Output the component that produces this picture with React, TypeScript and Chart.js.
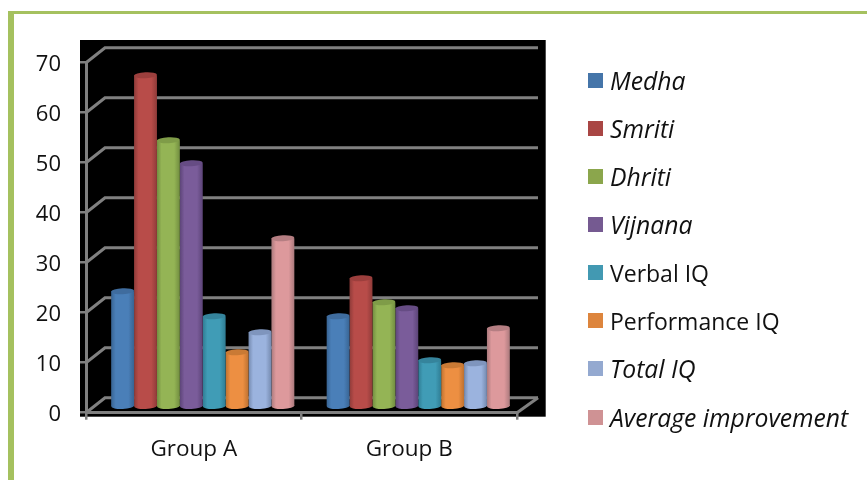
import React, { useEffect, useRef } from "react";
import { Chart, registerables } from "chart.js";

Chart.register(...registerables);

const groups = ["Group A", "Group B"];
const yMax = 70;
const yStep = 10;

const medha = [23.2, 18.2];
const smriti = [66.4, 25.8];
const dhriti = [53.4, 21];
const vijnana = [48.8, 19.8];
const verbalIQ = [18.2, 9.4];
const performanceIQ = [11, 8.4];
const totalIQ = [15, 8.8];
const averageImprovement = [33.8, 15.8];

const seriesNames = ["Medha", "Smriti", "Dhriti", "Vijnana", "Verbal IQ", "Performance IQ", "Total IQ", "Average improvement"];
const seriesValues = [medha, smriti, dhriti, vijnana, verbalIQ, performanceIQ, totalIQ, averageImprovement];
const italicNames = [true, true, true, true, false, false, true, true];
const mainColors = ["#4a7fb8", "#b84c49", "#94b455", "#7a5c9a", "#409cb6", "#ed8f42", "#9bb3de", "#dd999c"];
const edgeColors = ["#386493", "#8f3b39", "#718d40", "#5c4478", "#2f7c93", "#bd7130", "#7489ae", "#ab7a7d"];
const capColors = ["#3f6c9e", "#9c3f3d", "#7f9c48", "#664c84", "#35849c", "#c97a35", "#7f95bd", "#b57e82"];
const swatchColors = ["#4575a9", "#a94644", "#8ba64c", "#755a91", "#4299b2", "#dd853d", "#94a9d0", "#cf9294"];

const GRID = "#808080";
const FONT = "'Open Sans', sans-serif";
const CAT_PCT = 0.85;
const DEPTH_X = 19;
const DEPTH_Y = -15;
const BAR_DX = 9;
const BAR_DY = -5.5;
const CAP_RY = 3;

const barWidth = (chart: any) => {
  const s = chart.scales.x;
  return (s.getPixelForValue(1) - s.getPixelForValue(0)) * CAT_PCT / seriesNames.length;
};

const barGradient = (chart: any, i: number, dataIndex: number) => {
  const w = barWidth(chart);
  const cx = chart.scales.x.getPixelForValue(dataIndex) + (i - (seriesNames.length - 1) / 2) * w;
  const g = chart.ctx.createLinearGradient(cx - w / 2, 0, cx + w / 2, 0);
  g.addColorStop(0, edgeColors[i]);
  g.addColorStop(0.2, mainColors[i]);
  g.addColorStop(0.75, mainColors[i]);
  g.addColorStop(1, edgeColors[i]);
  return g;
};

const backdrop = {
  id: "backdrop",
  beforeDraw(chart: any) {
    const { ctx, chartArea: a } = chart;
    ctx.save();
    ctx.fillStyle = "#000";
    ctx.fillRect(a.left - 6, a.top - 22.7, a.right - a.left + 34.7, a.bottom - a.top + 26.7);
    ctx.restore();
  },
  beforeDatasetsDraw(chart: any) {
    const { ctx, chartArea: a, scales } = chart;
    ctx.save();
    ctx.strokeStyle = GRID;
    ctx.lineWidth = 3;
    for (const t of scales.y.ticks) {
      const y = scales.y.getPixelForValue(t.value);
      ctx.beginPath();
      ctx.moveTo(a.left, y);
      ctx.lineTo(a.left + DEPTH_X, y + DEPTH_Y);
      ctx.lineTo(a.right + DEPTH_X + 2, y + DEPTH_Y);
      ctx.stroke();
    }
    ctx.beginPath();
    ctx.moveTo(a.right, a.bottom);
    ctx.lineTo(a.right + DEPTH_X + 2, a.bottom + DEPTH_Y);
    ctx.stroke();
    ctx.restore();
    // Bars sit at mid-depth of the 3D box, with round feet under them.
    ctx.save();
    ctx.translate(BAR_DX, BAR_DY);
    const w = barWidth(chart);
    chart.data.datasets.forEach((_: any, i: number) => {
      chart.getDatasetMeta(i).data.forEach((el: any, di: number) => {
        ctx.fillStyle = barGradient(chart, i, di);
        ctx.beginPath();
        ctx.ellipse(el.x, el.base, w / 2, CAP_RY, -0.05, 0, Math.PI * 2);
        ctx.fill();
      });
    });
  },
  afterDatasetsDraw(chart: any) {
    const { ctx } = chart;
    const w = barWidth(chart);
    chart.data.datasets.forEach((_: any, i: number) => {
      chart.getDatasetMeta(i).data.forEach((el: any) => {
        ctx.fillStyle = capColors[i];
        ctx.beginPath();
        ctx.ellipse(el.x, el.y, w / 2, CAP_RY, -0.05, 0, Math.PI * 2);
        ctx.fill();
      });
    });
    ctx.restore();
  },
};

export default function App() {
  const ref = useRef<HTMLCanvasElement>(null);
  useEffect(() => {
    const chart = new Chart(ref.current!, {
      type: "bar",
      plugins: [backdrop],
      data: {
        labels: groups,
        datasets: seriesNames.map((name, i) => ({
          label: name,
          data: seriesValues[i],
          borderWidth: 0,
          clip: false as any,
          backgroundColor: (c: any) => {
            if (!c.chart.chartArea || c.dataIndex === undefined) return mainColors[i];
            return barGradient(c.chart, i, c.dataIndex);
          },
        })),
      },
      options: {
        responsive: false,
        animation: false,
        devicePixelRatio: 1,
        layout: { padding: { left: 0, right: 350, top: 62.7, bottom: 17.3 } },
        plugins: { legend: { display: false }, tooltip: { enabled: false } },
        datasets: { bar: { barPercentage: 1, categoryPercentage: CAT_PCT } },
        scales: {
          x: {
            grid: { drawOnChartArea: false, color: GRID, lineWidth: 2.5, tickLength: 7 },
            border: { color: GRID, width: 3 },
            ticks: { color: "#111", padding: 16, font: { family: FONT, size: 22.5 } },
            afterFit: (s: any) => { s.height = 50; },
          },
          y: {
            min: 0,
            max: yMax,
            grid: { drawOnChartArea: false, color: GRID, lineWidth: 2.5, tickLength: 6 },
            border: { color: GRID, width: 3 },
            ticks: { stepSize: yStep, color: "#111", padding: 19, labelOffset: 2.5, font: { family: FONT, size: 22 } },
            afterFit: (s: any) => { s.width = 86; },
          },
        },
      },
    });
    return () => chart.destroy();
  }, []);

  return (
    <div style={{ position: "absolute", left: 0, top: 0, width: 867, height: 480, overflow: "hidden", background: "#fff" }}>
      <div style={{ position: "absolute", left: 8, top: 11, width: 6, height: 469, background: "#a5c15f" }} />
      <div style={{ position: "absolute", left: 8, top: 11, width: 859, height: 3, background: "#a5c15f" }} />
      <canvas ref={ref} width={867} height={480} style={{ position: "absolute", left: 0, top: 0, display: "block" }} />
      {seriesNames.map((name, i) => (
        <div key={name} style={{ position: "absolute", left: 588, top: 60 + i * 48.15, height: 40, display: "flex", alignItems: "center", whiteSpace: "nowrap" }}>
          <span style={{ width: 15, height: 15, background: swatchColors[i], marginRight: 7, display: "inline-block" }} />
          <span style={{ fontFamily: FONT, fontSize: italicNames[i] ? 24.7 : 23, fontStyle: italicNames[i] ? "italic" : "normal", color: "#111" }}>{name}</span>
        </div>
      ))}
    </div>
  );
}
